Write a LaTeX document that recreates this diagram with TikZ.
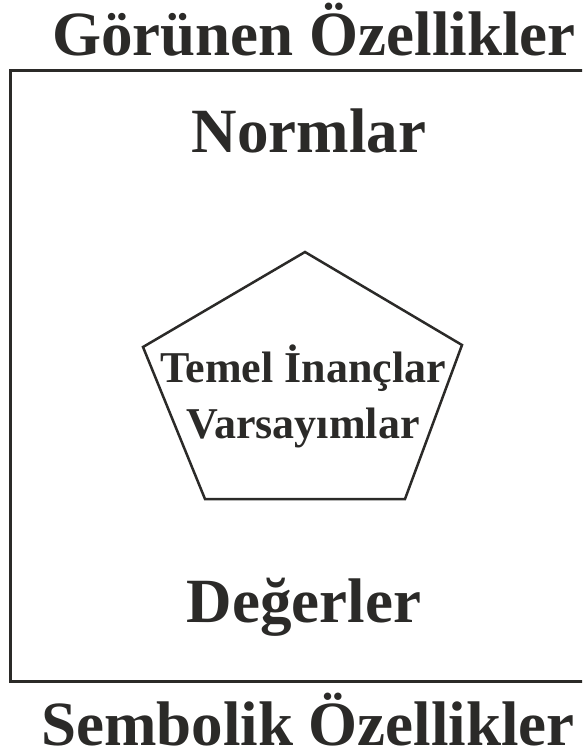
\documentclass[tikz,border=0pt]{standalone}
\usepackage{fontspec}
\setmainfont{Liberation Serif}
\definecolor{ink}{RGB}{43,42,40}
\begin{document}
\begin{tikzpicture}[x=1pt,y=-1pt,
  big/.style={font=\fontsize{63}{63}\selectfont\bfseries, text=ink, anchor=base, inner sep=0pt, text depth=0pt},
  small/.style={font=\fontsize{44}{56}\selectfont\bfseries, text=ink, align=center, inner sep=0pt},
  frame/.style={draw=ink, line width=3pt},
  penta/.style={draw=ink, line width=2.5pt, line join=miter}]
\useasboundingbox (0,0) rectangle (582,756);
\clip (0,0) rectangle (582,756);
\draw[frame] (10,70) rectangle (604,681);
\node[big] (top) at (314,55) {Görünen Özellikler};
\node[big] (norm) at (309,152) {Normlar};
\node[big] (deg) at (304,622) {Değerler};
\node[big] (bot) at (308,745) {Sembolik Özellikler};
\coordinate (p1) at (305,252);
\coordinate (p2) at (462,345);
\coordinate (p3) at (405,499);
\coordinate (p4) at (205,499);
\coordinate (p5) at (143,347);
\draw[penta] (p1) -- (p2) -- (p3) -- (p4) -- (p5) -- cycle;
\node[small, anchor=base] (core) at (303,438) {Temel İnançlar\\Varsayımlar};
\end{tikzpicture}
\end{document}
